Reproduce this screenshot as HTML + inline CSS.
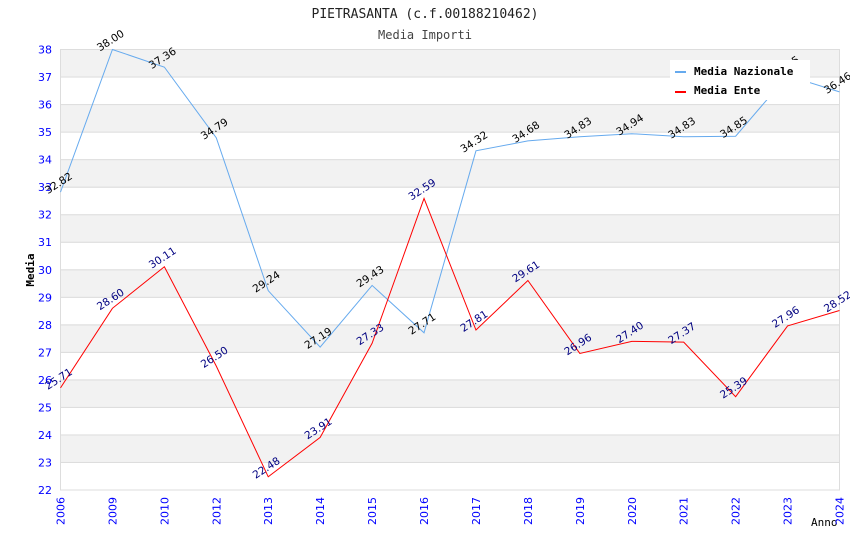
<!DOCTYPE html>
<html><head><meta charset="utf-8"><style>
body{margin:0;background:#fff;}
svg{display:block;font-family:"DejaVu Sans","Liberation Sans",sans-serif;}
</style></head><body>
<svg id="c" width="850" height="550" xmlns="http://www.w3.org/2000/svg">
<text x="425" y="18" text-anchor="middle" font-family="DejaVu Sans Mono,monospace" font-size="13" fill="#222">PIETRASANTA (c.f.00188210462)</text>
<text x="425" y="39" text-anchor="middle" font-family="DejaVu Sans Mono,monospace" font-size="12" fill="#444">Media Importi</text>
<text x="34" y="270" text-anchor="middle" transform="rotate(-90 34 270)" font-family="DejaVu Sans Mono,monospace" font-size="11" font-weight="bold" fill="#000">Media</text>
<text x="811" y="526" font-family="DejaVu Sans Mono,monospace" font-size="11" fill="#000">Anno</text>
<g id="bands"></g><g id="ticks"></g><g id="series"></g><g id="labels"></g>
<g>
<rect x="670" y="60" width="140" height="40" fill="#fff"/>
<rect x="675" y="71" width="11" height="2" fill="#66aaee"/>
<text x="694" y="75" font-family="DejaVu Sans Mono,monospace" font-size="11" font-weight="bold">Media Nazionale</text>
<rect x="675" y="91" width="11" height="2" fill="#ff0000"/>
<text x="694" y="94" font-family="DejaVu Sans Mono,monospace" font-size="11" font-weight="bold">Media Ente</text>
</g>
</svg>
<script>
const categories=["2006","2009","2010","2012","2013","2014","2015","2016","2017","2018","2019","2020","2021","2022","2023","2024"];
const nazionale=[32.82,38.00,37.36,34.79,29.24,27.19,29.43,27.71,34.32,34.68,34.83,34.94,34.83,34.85,37.05,36.46];
const ente=[25.71,28.60,30.11,26.50,22.48,23.91,27.33,32.59,27.81,29.61,26.96,27.40,27.37,25.39,27.96,28.52];
const yTicks=[22,23,24,25,26,27,28,29,30,31,32,33,34,35,36,37,38];
const NS="http://www.w3.org/2000/svg";
const L=60.5,R=839.5,T=49.5,B=490;
const yMin=22,yMax=38;
function x(i){return L+(R-L)*i/(categories.length-1);}
function y(v){return B-(v-yMin)/(yMax-yMin)*(B-T);}
function mk(tag,attrs,parent,text){const e=document.createElementNS(NS,tag);for(const k in attrs)e.setAttribute(k,attrs[k]);if(text!==undefined)e.textContent=text;document.getElementById(parent).appendChild(e);return e;}
for(let i=0;i<yTicks.length-1;i++){
 const top=y(yTicks[i+1]),bot=y(yTicks[i]);
 const gray=(yTicks.length-2-i)%2===0;
 const r=mk('rect',{x:L,y:top,width:R-L,height:bot-top,fill:gray?'#f2f2f2':'#fff',stroke:'#ddd','stroke-width':1},'bands');
 
 
}
yTicks.forEach(v=>{
 const t=mk('text',{x:52,y:y(v)+4,'text-anchor':'end','font-size':11,fill:'#0000ff'},'ticks',String(v));
 
 
});
categories.forEach((c,i)=>{
 const t=mk('text',{x:0,y:0,'text-anchor':'end','font-size':11,fill:'#0000ff',transform:`translate(${x(i)+4},497) rotate(-90)`},'ticks',c);
 
 
});
function series(vals,color,lblColor,name){
 const p=mk('polyline',{points:vals.map((v,i)=>x(i)+','+y(v)).join(' '),fill:'none',stroke:color,'stroke-width':1},'series');
 
 
 vals.forEach((v,i)=>{
  const t=mk('text',{x:0,y:0,'text-anchor':'middle','font-size':10.5,fill:lblColor,transform:`translate(${x(i)},${y(v)-6}) rotate(-33)`},'labels',v.toFixed(2));
  
  
 });
}
series(nazionale,'#66aaee','#000','nazionale');
series(ente,'#ff0000','#000080','ente');
</script>
</body></html>
